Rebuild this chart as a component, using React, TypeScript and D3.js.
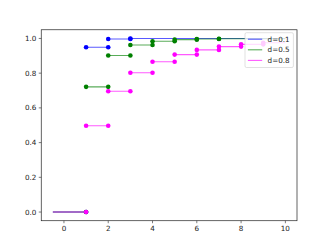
import React from "react";
import * as d3 from "d3";

// each series: value of the step starting at k = 1, 2, ... ; the last step runs to endX
const startX = -0.5;
const endX = 10;
const blueValues = [0.949, 0.997, 1.0];
const greenValues = [0.721, 0.902, 0.962, 0.984, 0.993, 0.997, 0.998];
const magentaValues = [0.497, 0.696, 0.802, 0.866, 0.907, 0.934, 0.953, 0.966, 0.975];
const seriesLabels = ["d=0.1", "d=0.5", "d=0.8"];
const seriesColors = ["#0000ff", "#008000", "#ff00ff"];
const xTicks = [0, 2, 4, 6, 8, 10];
const yTicks = [0, 0.2, 0.4, 0.6, 0.8, 1.0];

const W = 330;
const H = 248;
const L = 41.25, R = 297, T = 29.76, B = 220.72;
const FONT = "DejaVu Sans, sans-serif";
const FS = 7.2;

type Seg = { x0: number; x1: number; v: number; left: boolean; right: boolean };

export default function App() {
  const x = d3.scaleLinear().domain([-1.025, 10.525]).range([L, R]);
  const y = d3.scaleLinear().domain([-0.05, 1.05]).range([B, T]);
  const all = [blueValues, greenValues, magentaValues];

  return (
    <svg width={W} height={H} style={{ position: "absolute", left: 0, top: 0 }} fontFamily={FONT}>
      <rect x={0} y={0} width={W} height={H} fill="#fff" />
      <defs>
        <clipPath id="plotclip">
          <rect x={L} y={T} width={R - L} height={B - T} />
        </clipPath>
      </defs>
      <g clipPath="url(#plotclip)">
        {all.map((vals, si) => {
          const c = seriesColors[si];
          const segs: Seg[] = [{ x0: startX, x1: 1, v: 0, left: false, right: true }];
          vals.forEach((v, i) => {
            const last = i === vals.length - 1;
            segs.push({ x0: i + 1, x1: last ? endX : i + 2, v, left: true, right: !last });
          });
          return (
            <g key={si}>
              {segs.map((sg, i) => (
                <line key={"l" + i} x1={x(sg.x0)} x2={x(sg.x1)} y1={y(sg.v)} y2={y(sg.v)}
                  stroke={c} strokeWidth={1.1} strokeOpacity={0.65} />
              ))}
              {segs.map((sg, i) => (
                <g key={"m" + i}>
                  {sg.left && <circle cx={x(sg.x0)} cy={y(sg.v)} r={2.3} fill={c} />}
                  {sg.right && <circle cx={x(sg.x1)} cy={y(sg.v)} r={2.3} fill={c} />}
                </g>
              ))}
            </g>
          );
        })}
      </g>
      {/* spines */}
      <rect x={L} y={T} width={R - L} height={B - T} fill="none" stroke="#222" strokeWidth={0.7} />
      {/* x ticks */}
      {xTicks.map((t) => (
        <g key={"x" + t}>
          <line x1={x(t)} x2={x(t)} y1={B} y2={B + 2.5} stroke="#222" strokeWidth={0.6} />
          <text x={x(t)} y={B + 10.3} fontSize={FS} textAnchor="middle" fill="#222">{t}</text>
        </g>
      ))}
      {/* y ticks */}
      {yTicks.map((t) => (
        <g key={"y" + t}>
          <line x1={L - 2.5} x2={L} y1={y(t)} y2={y(t)} stroke="#222" strokeWidth={0.6} />
          <text x={L - 4.8} y={y(t)} dy="0.35em" fontSize={FS} textAnchor="end" fill="#222">{t.toFixed(1)}</text>
        </g>
      ))}
      {/* legend */}
      <g>
        <rect x={245} y={32.7} width={48.4} height={34.8} rx={1.5} fill="#fff" fillOpacity={0.8} stroke="#ccc" strokeWidth={0.6} />
        {seriesLabels.map((lab, i) => {
          const cy = 39.2 + i * 10.6;
          return (
            <g key={lab}>
              <line x1={247.9} x2={262.2} y1={cy} y2={cy} stroke={seriesColors[i]} strokeWidth={1.1} strokeOpacity={0.65} />
              <text x={267.6} y={cy} dy="0.35em" fontSize={FS} fill="#222">{lab}</text>
            </g>
          );
        })}
      </g>
    </svg>
  );
}
